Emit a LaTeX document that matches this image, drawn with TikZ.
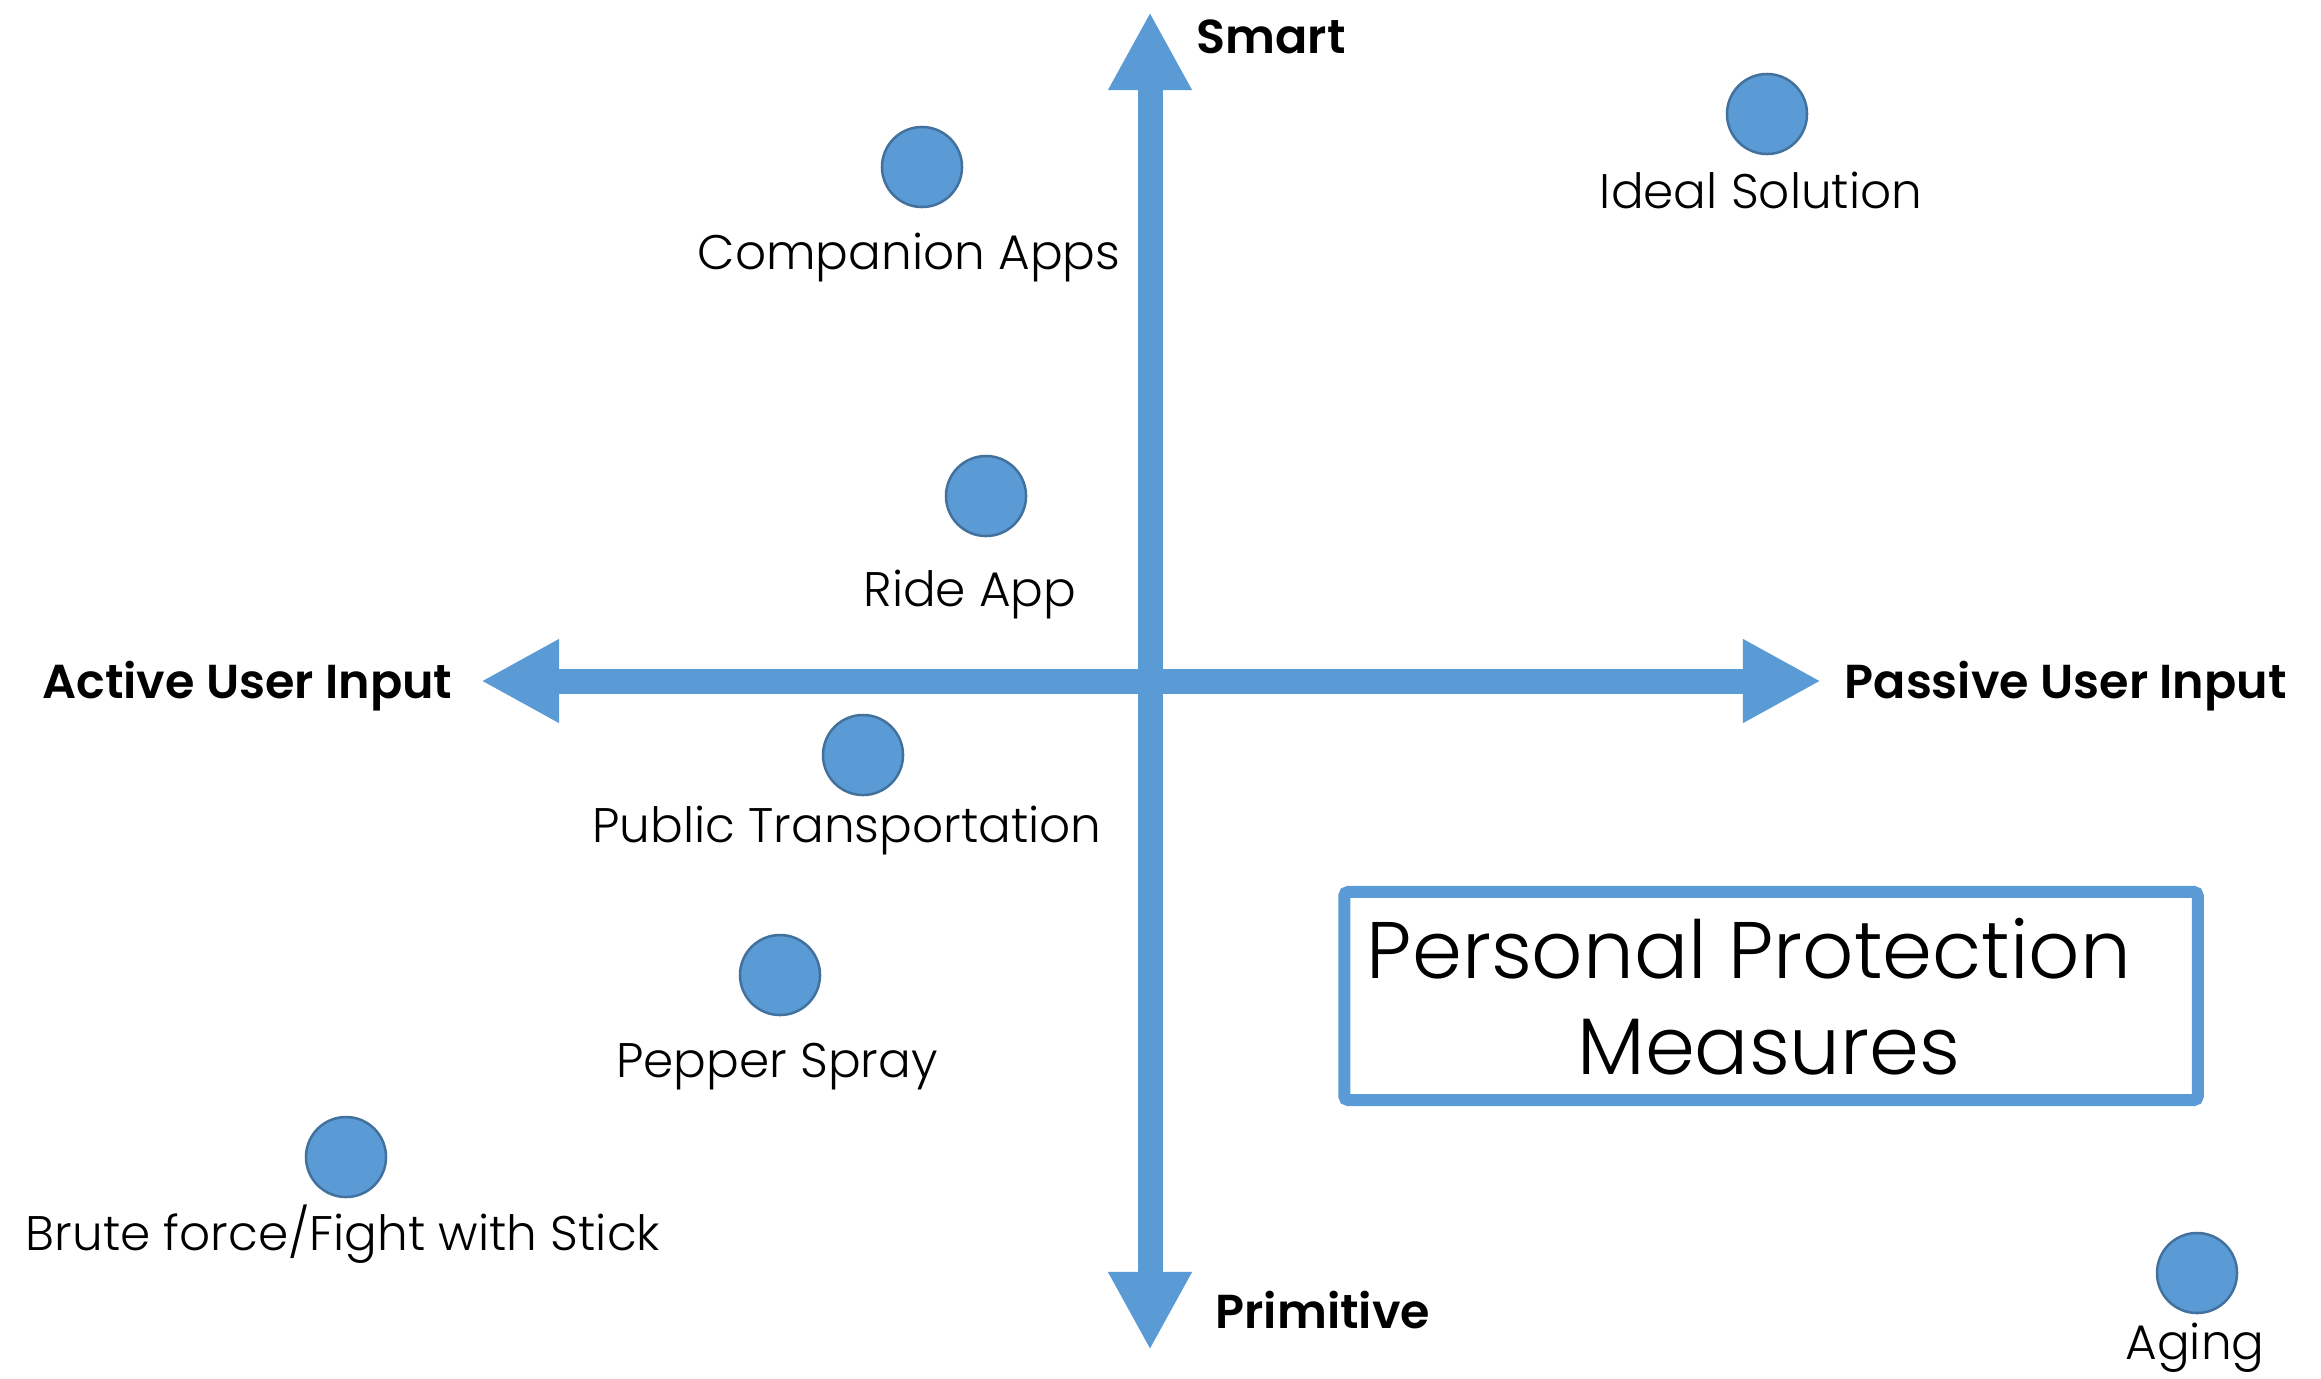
\documentclass[tikz,border=0pt]{standalone}
\usepackage{fontspec}
\setmainfont{Poppins Light}
\newfontfamily\axisfont{Poppins SemiBold}
\usetikzlibrary{arrows.meta}
\definecolor{axisblue}{HTML}{5B9BD5}
\definecolor{dotedge}{HTML}{41719C}
\begin{document}
\begin{tikzpicture}[x=0.01cm,y=-0.01cm,
  axisline/.style={draw=axisblue, line width=0.25cm,
    {Triangle[length=0.78cm,width=0.78cm]}-{Triangle[length=0.78cm,width=0.78cm]}},
  dot/.style={circle, fill=axisblue, draw=dotedge, line width=0.025cm, minimum size=0.8cm, inner sep=0pt},
  lab/.style={inner sep=0pt, anchor=base, font=\fontsize{13.8}{16}\selectfont},
  axlab/.style={inner sep=0pt, font=\axisfont\fontsize{13.55}{16}\selectfont},
  titlebox/.style={draw=axisblue, line width=0.12cm, rounded corners=0.04cm, minimum width=8.53cm, minimum height=2.08cm, inner sep=0pt},
  titletext/.style={inner sep=0pt, anchor=base, font=\fontsize{22.8}{26}\selectfont}]
\useasboundingbox (0,0) rectangle (2321,1378);
% axes
\coordinate (top) at (1150,12);
\coordinate (bottom) at (1150,1350);
\coordinate (left) at (481,681);
\coordinate (right) at (1821,681);
\draw[axisline] (bottom) -- (top);
\draw[axisline] (left) -- (right);
% axis labels
\node[axlab, anchor=base west] (smart) at (1196,53) {Smart};
\node[axlab, anchor=base west] (prim) at (1215,1328) {Primitive};
\node[axlab, anchor=base east] (active) at (453,698) {Active User Input};
\node[axlab, anchor=base west] (passive) at (1844,698) {Passive User Input};
% dots
\node[dot] (ideal) at (1767,114) {};
\node[dot] (comp) at (922,167) {};
\node[dot] (ride) at (986,496) {};
\node[dot] (pub) at (863,755) {};
\node[dot] (pep) at (780,975) {};
\node[dot] (brute) at (346,1157) {};
\node[dot] (aging) at (2197,1273) {};
% labels
\node[lab] (idealL) at (1761,208) {Ideal Solution};
\node[lab] (compL) at (909,269) {Companion Apps};
\node[lab] (rideL) at (970,606) {Ride App};
\node[lab] (pubL) at (847,842) {Public Transportation};
\node[lab] (pepL) at (777,1077) {Pepper Spray};
\node[lab] (bruteL) at (343,1250) {Brute force/Fight with Stick};
\node[lab] (agingL) at (2195,1359) {Aging};
% title box
\node[titlebox] (box) at (1771,996) {};
\node[titletext] (t1) at (1749,978) {Personal Protection};
\node[titletext] (t2) at (1769,1074) {Measures};
\end{tikzpicture}
\end{document}
